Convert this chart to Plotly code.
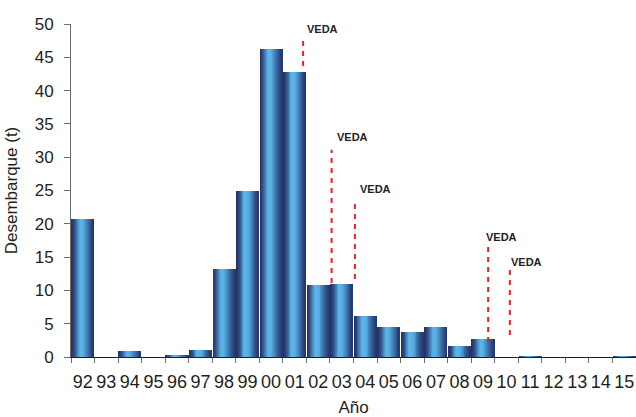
import plotly.graph_objects as go
import numpy as np

# Annual landings (t)
years = ["92", "93", "94", "95", "96", "97", "98", "99", "00", "01", "02", "03",
         "04", "05", "06", "07", "08", "09", "10", "11", "12", "13", "14", "15"]
landings = [20.7, 0, 0.9, 0, 0.3, 1.05, 13.2, 25.0, 46.2, 42.8, 10.8, 11.0,
            6.15, 4.5, 3.75, 4.5, 1.65, 2.7, 0, 0.15, 0, 0, 0, 0.15]

# Closed-season (VEDA) markers: x position on the year index, vertical span
veda_x = [9.36, 10.57, 11.56, 17.22, 18.14]
veda_top = [47.8, 31.1, 23.7, 16.8, 13.5]
veda_bottom = [43.7, 11.1, 11.7, 2.25, 3.3]
veda_label_x = [9.43, 10.73, 11.68, 17.03, 18.12]
veda_label_y = [49.2, 33.0, 25.2, 18.0, 14.3]

xi = np.arange(len(years))
bar_w = 0.935

# Cylinder-like shading across each bar: colour stops (position, rgb)
stops = [(0.0, (36, 44, 96)), (0.15, (45, 80, 135)), (0.38, (92, 182, 232)),
         (0.55, (88, 172, 225)), (0.8, (55, 100, 155)), (1.0, (38, 52, 102))]


def shade(t):
    for (p0, c0), (p1, c1) in zip(stops[:-1], stops[1:]):
        if p0 <= t <= p1:
            f = (t - p0) / (p1 - p0)
            c = [round(a + (b - a) * f) for a, b in zip(c0, c1)]
            return f"rgb({c[0]},{c[1]},{c[2]})"
    return "rgb(38,52,102)"


fig = go.Figure()
n_strips = 24
strip_w = bar_w / n_strips
for k in range(n_strips):
    fig.add_trace(go.Bar(
        x=xi, y=landings,
        width=strip_w * 1.08,
        offset=-bar_w / 2 + k * strip_w,
        marker=dict(color=shade((k + 0.5) / n_strips), line=dict(width=0)),
        showlegend=False, hoverinfo="skip",
    ))

for x, y0, y1 in zip(veda_x, veda_bottom, veda_top):
    fig.add_trace(go.Scatter(
        x=[x, x], y=[y0, y1], mode="lines",
        line=dict(color="#e8202a", width=2, dash="5px,5px"),
        showlegend=False, hoverinfo="skip",
    ))

for x, y in zip(veda_label_x, veda_label_y):
    fig.add_annotation(x=x, y=y, text="<b>VEDA</b>", showarrow=False,
                       xanchor="left", yanchor="middle",
                       font=dict(family="Liberation Sans, Arial", size=11, color="#231f20"))

axis_col = "#6d6e71"
fig.update_layout(
    width=636, height=417,
    margin=dict(l=71, r=0, t=24, b=60),
    paper_bgcolor="white", plot_bgcolor="white",
    barmode="overlay", bargap=0,
    font=dict(family="Liberation Sans, Arial", size=17, color="#231f20"),
    xaxis=dict(
        range=[-0.5, 23.5], tickmode="array", tickvals=list(xi), ticktext=years,
        ticks="", showgrid=False, zeroline=False,
        showline=True, linecolor="#231f20", linewidth=1,
        tickfont=dict(size=18, color="#231f20"), ticklabelstandoff=8,
        minor=dict(tickmode="array", tickvals=list(np.arange(-0.5, 24, 1.0)),
                   ticks="outside", ticklen=5, tickcolor=axis_col, showgrid=False),
        title=dict(text="Año", font=dict(size=17, color="#231f20"), standoff=12),
    ),
    yaxis=dict(
        range=[0, 50], tickmode="array", tickvals=list(range(0, 51, 5)),
        ticks="outside", ticklen=6, tickcolor=axis_col,
        showgrid=False, zeroline=False,
        showline=True, linecolor=axis_col, linewidth=1,
        tickfont=dict(size=17, color="#231f20"), ticklabelstandoff=7,
        title=dict(text="Desembarque (t)", font=dict(size=17, color="#231f20"), standoff=12),
    ),
)

fig.write_html("out.html")
